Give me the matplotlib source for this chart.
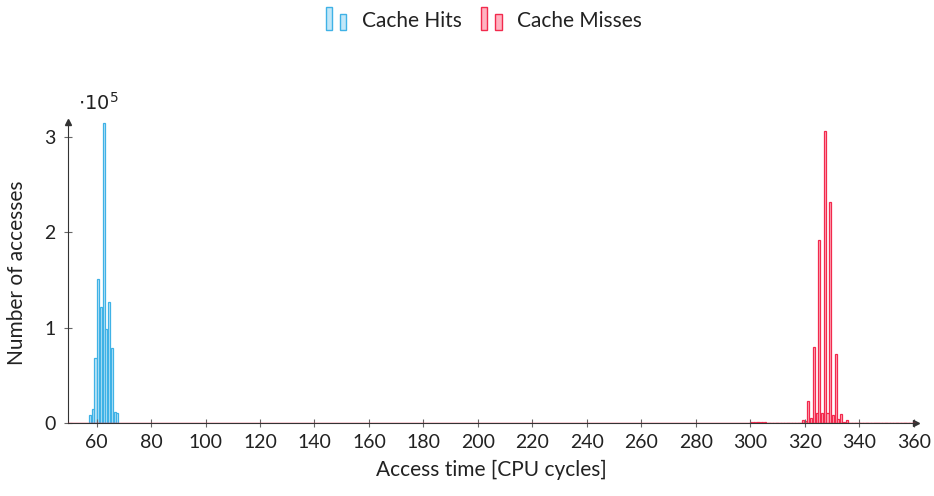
import matplotlib
matplotlib.use("Agg")
import matplotlib.pyplot as plt
from matplotlib.patches import Rectangle
from matplotlib.legend_handler import HandlerBase
import numpy as np

plt.rcParams['font.family'] = ['Lato', 'DejaVu Sans']
plt.rcParams['mathtext.fontset'] = 'dejavusans'

# Access-time histogram (counts) for cache hits
hit_cycles = [58, 59, 60, 61, 62, 63, 64, 65, 66, 67, 68]
hit_counts = [8000, 15000, 68000, 151000, 122000, 315000, 99000, 127000, 79000, 12000, 11000]

# Access-time histogram (counts) for cache misses
miss_cycles = list(range(300, 359))
miss_counts = [1000, 1500, 1000, 1200, 800, 600, 500, 500, 500, 500,
               500, 500, 500, 500, 500, 500, 500, 500, 500, 3500,
               2000, 23000, 5000, 80000, 10000, 192000, 11000, 306000, 10000, 232000,
               8000, 72000, 4000, 9000, 1000, 3000, 500, 500, 500, 500,
               500, 500, 500, 500, 500, 500, 500, 500, 500, 500,
               500, 500, 500, 500, 500, 500, 500, 500, 500]

y_ticks = [0, 100000, 200000, 300000]
y_tick_labels = ['0', '1', '2', '3']
x_ticks = list(range(60, 361, 20))

hit_edge, hit_fill = '#3fb2e6', '#c2e7f8'
miss_edge, miss_fill = '#f22a4d', '#ffb3c1'
text_color = '#222222'


class TwoBarHandler(HandlerBase):
    """Legend key drawn as two small bars, like a bar-plot legend."""

    def create_artists(self, legend, orig_handle, xdescent, ydescent,
                       width, height, fontsize, trans):
        p = orig_handle.patches[0]
        fc = p.get_facecolor()
        ec = p.get_edgecolor()
        bw = width * 0.3
        bars = []
        for x0, h in [(0, height * 1.55), (width * 0.7, height * 1.07)]:
            r = Rectangle((x0 - xdescent, -ydescent - height * 0.2), bw, h,
                          facecolor=fc, edgecolor=ec, lw=1.0, transform=trans)
            bars.append(r)
        return bars


fig = plt.figure(figsize=(9.34, 4.96), dpi=100)
ax = fig.add_axes([0.0728, 0.1472, 0.9075, 0.607])

hits = ax.bar(np.array(hit_cycles) - 0.4, hit_counts, width=0.75,
              facecolor=hit_fill, edgecolor=hit_edge, lw=0.9, label='Cache Hits')
ax.axhline(0, color=miss_edge, lw=1.0, zorder=3)
misses = ax.bar(np.array(miss_cycles) + 0.35, miss_counts, width=0.75,
                facecolor=miss_fill, edgecolor=miss_edge, lw=0.9, label='Cache Misses')

ax.set_xlim(49.5, 360.7)
ax.set_ylim(0, 316000)

for s in ['top', 'right']:
    ax.spines[s].set_visible(False)
for s in ['left', 'bottom']:
    ax.spines[s].set_color('#333333')
    ax.spines[s].set_linewidth(0.8)

# arrow heads on the axis lines
ax.plot(1, 0, '>', color='#333333', ms=5, transform=ax.transAxes, clip_on=False)
ax.plot(0, 1, '^', color='#333333', ms=5, transform=ax.transAxes, clip_on=False)

ax.set_xticks(x_ticks)
ax.set_yticks(y_ticks)
ax.set_yticklabels(y_tick_labels)
ax.tick_params(direction='inout', length=6, width=0.8, color='#666666',
               labelsize=14, labelcolor=text_color)
ax.tick_params(axis='x', pad=5)
ax.tick_params(axis='y', pad=6)

ax.set_xlabel('Access time [CPU cycles]', fontsize=15, color=text_color, labelpad=6)
ax.set_ylabel('Number of accesses', fontsize=15, color=text_color, labelpad=12)
ax.text(0.012, 1.03, r'$\cdot 10^5$', transform=ax.transAxes, fontsize=14,
        color=text_color, ha='left', va='bottom')

fig.legend([hits, misses], ['Cache Hits', 'Cache Misses'], loc='center',
           bbox_to_anchor=(0.518, 0.958), ncol=2, frameon=False, fontsize=15,
           labelcolor=text_color, handlelength=1.0, handletextpad=0.75,
           columnspacing=0.9,
           handler_map={hits: TwoBarHandler(), misses: TwoBarHandler()})

fig.savefig('out.png', dpi=100)
